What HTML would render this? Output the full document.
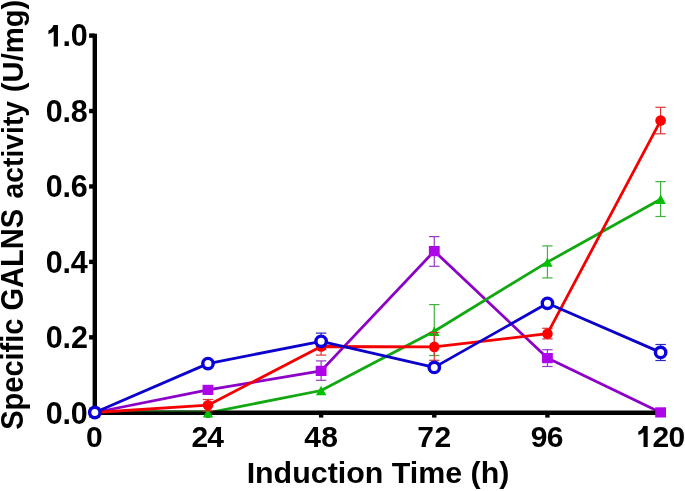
<!DOCTYPE html><html><head><meta charset="utf-8"><style>html,body{margin:0;padding:0;background:#fff;overflow:hidden}svg{display:block}</style></head><body>
<svg width="685" height="491" viewBox="0 0 685 491">
<rect width="685" height="491" fill="#fff"/>
<g stroke="#9838c8" stroke-width="1.2"><line x1="321.12" y1="360.9" x2="321.12" y2="380.3"/><line x1="315.92" y1="360.9" x2="326.32" y2="360.9"/><line x1="315.92" y1="380.3" x2="326.32" y2="380.3"/></g><g stroke="#9838c8" stroke-width="1.2"><line x1="434.28" y1="236.6" x2="434.28" y2="266.3"/><line x1="429.08" y1="236.6" x2="439.48" y2="236.6"/><line x1="429.08" y1="266.3" x2="439.48" y2="266.3"/></g><g stroke="#9838c8" stroke-width="1.2"><line x1="547.44" y1="349.7" x2="547.44" y2="366.5"/><line x1="542.24" y1="349.7" x2="552.64" y2="349.7"/><line x1="542.24" y1="366.5" x2="552.64" y2="366.5"/></g>
<polyline points="94.80,412.50 207.96,389.90 321.12,370.90 434.28,251.10 547.44,358.10 660.60,412.40" fill="none" stroke="#8c00c8" stroke-width="2.8" stroke-linejoin="round"/>
<g stroke="#40b040" stroke-width="1.2"><line x1="434.28" y1="304.6" x2="434.28" y2="355.5"/><line x1="429.08" y1="304.6" x2="439.48" y2="304.6"/><line x1="429.08" y1="355.5" x2="439.48" y2="355.5"/></g><g stroke="#40b040" stroke-width="1.2"><line x1="547.44" y1="245.9" x2="547.44" y2="277.9"/><line x1="542.24" y1="245.9" x2="552.64" y2="245.9"/><line x1="542.24" y1="277.9" x2="552.64" y2="277.9"/></g><g stroke="#40b040" stroke-width="1.2"><line x1="660.60" y1="181.6" x2="660.60" y2="216.5"/><line x1="655.40" y1="181.6" x2="665.80" y2="181.6"/><line x1="655.40" y1="216.5" x2="665.80" y2="216.5"/></g>
<polyline points="94.80,412.50 207.96,412.90 321.12,390.50 434.28,331.20 547.44,262.10 660.60,199.30" fill="none" stroke="#12a812" stroke-width="2.8" stroke-linejoin="round"/>
<g stroke="#000" stroke-width="4.4" fill="none">
<line x1="94.8" y1="33.7" x2="94.8" y2="414.95"/>
<line x1="89.1" y1="337.32" x2="94.8" y2="337.32"/>
<line x1="89.1" y1="261.89" x2="94.8" y2="261.89"/>
<line x1="89.1" y1="186.46" x2="94.8" y2="186.46"/>
<line x1="89.1" y1="111.03" x2="94.8" y2="111.03"/>
<line x1="89.1" y1="35.60" x2="94.8" y2="35.60"/>
<line x1="92.60" y1="412.75" x2="662.6" y2="412.75"/>
<line x1="207.96" y1="412.75" x2="207.96" y2="417.6"/>
<line x1="321.12" y1="412.75" x2="321.12" y2="417.6"/>
<line x1="434.28" y1="412.75" x2="434.28" y2="417.6"/>
<line x1="547.44" y1="412.75" x2="547.44" y2="417.6"/>
</g>
<line x1="100.80" y1="411.2" x2="207.96" y2="411.2" stroke="#0d5e0d" stroke-width="1.3"/>
<rect x="89.40" y="407.40" width="10.8" height="10.2" fill="#ae04e8"/><rect x="202.56" y="384.80" width="10.8" height="10.2" fill="#ae04e8"/><rect x="315.72" y="365.80" width="10.8" height="10.2" fill="#ae04e8"/><rect x="428.88" y="246.00" width="10.8" height="10.2" fill="#ae04e8"/><rect x="542.04" y="353.00" width="10.8" height="10.2" fill="#ae04e8"/><rect x="655.20" y="407.30" width="10.8" height="10.2" fill="#ae04e8"/>
<path d="M94.80,407.80 L100.00,417.20 L89.60,417.20Z" fill="#00c000"/><path d="M207.96,408.20 L213.16,417.60 L202.76,417.60Z" fill="#00c000"/><path d="M321.12,385.80 L326.32,395.20 L315.92,395.20Z" fill="#00c000"/><path d="M434.28,326.50 L439.48,335.90 L429.08,335.90Z" fill="#00c000"/><path d="M547.44,257.40 L552.64,266.80 L542.24,266.80Z" fill="#00c000"/><path d="M660.60,194.60 L665.80,204.00 L655.40,204.00Z" fill="#00c000"/>
<g stroke="#2828c0" stroke-width="1.2"><line x1="321.12" y1="333.1" x2="321.12" y2="349.5"/><line x1="315.92" y1="333.1" x2="326.32" y2="333.1"/><line x1="315.92" y1="349.5" x2="326.32" y2="349.5"/></g><g stroke="#2828c0" stroke-width="1.2"><line x1="660.60" y1="344.5" x2="660.60" y2="360.5"/><line x1="655.40" y1="344.5" x2="665.80" y2="344.5"/><line x1="655.40" y1="360.5" x2="665.80" y2="360.5"/></g>
<g stroke="#d83838" stroke-width="1.2"><line x1="207.96" y1="399.5" x2="207.96" y2="410.9"/><line x1="202.76" y1="399.5" x2="213.16" y2="399.5"/><line x1="202.76" y1="410.9" x2="213.16" y2="410.9"/></g><g stroke="#d83838" stroke-width="1.2"><line x1="321.12" y1="338.3" x2="321.12" y2="355.1"/><line x1="315.92" y1="338.3" x2="326.32" y2="338.3"/><line x1="315.92" y1="355.1" x2="326.32" y2="355.1"/></g><g stroke="#d83838" stroke-width="1.2"><line x1="434.28" y1="332.4" x2="434.28" y2="360.3"/><line x1="429.08" y1="332.4" x2="439.48" y2="332.4"/><line x1="429.08" y1="360.3" x2="439.48" y2="360.3"/></g><g stroke="#d83838" stroke-width="1.2"><line x1="547.44" y1="328.3" x2="547.44" y2="338.9"/><line x1="542.24" y1="328.3" x2="552.64" y2="328.3"/><line x1="542.24" y1="338.9" x2="552.64" y2="338.9"/></g><g stroke="#d83838" stroke-width="1.2"><line x1="660.60" y1="107.3" x2="660.60" y2="133.8"/><line x1="655.40" y1="107.3" x2="665.80" y2="107.3"/><line x1="655.40" y1="133.8" x2="665.80" y2="133.8"/></g>
<polyline points="94.80,412.50 207.96,405.20 321.12,346.50 434.28,346.90 547.44,333.70 660.60,120.60" fill="none" stroke="#f40000" stroke-width="2.8" stroke-linejoin="round"/>
<circle cx="94.80" cy="412.50" r="5.3" fill="#ff0000"/><circle cx="207.96" cy="405.20" r="5.3" fill="#ff0000"/><circle cx="321.12" cy="346.50" r="5.3" fill="#ff0000"/><circle cx="434.28" cy="346.90" r="5.3" fill="#ff0000"/><circle cx="547.44" cy="333.70" r="5.3" fill="#ff0000"/><circle cx="660.60" cy="120.60" r="5.3" fill="#ff0000"/>
<polyline points="94.80,412.50 207.96,363.60 321.12,341.30 434.28,367.40 547.44,303.30 660.60,352.40" fill="none" stroke="#0c00cc" stroke-width="2.8" stroke-linejoin="round"/>
<circle cx="94.80" cy="412.50" r="5.2" fill="#fff" stroke="#0a00dc" stroke-width="3.4"/><circle cx="207.96" cy="363.60" r="5.2" fill="#fff" stroke="#0a00dc" stroke-width="3.4"/><circle cx="321.12" cy="341.30" r="5.2" fill="#fff" stroke="#0a00dc" stroke-width="3.4"/><circle cx="434.28" cy="367.40" r="5.2" fill="#fff" stroke="#0a00dc" stroke-width="3.4"/><circle cx="547.44" cy="303.30" r="5.2" fill="#fff" stroke="#0a00dc" stroke-width="3.4"/><circle cx="660.60" cy="352.40" r="5.2" fill="#fff" stroke="#0a00dc" stroke-width="3.4"/>
<g font-family='"Liberation Sans", sans-serif' font-weight="bold" font-size="30.4" fill="#000" style="filter:grayscale(1)">
<text x="45.82" y="423.55" font-size="30.5">0</text>
<text x="62.59" y="423.55" font-size="30.5">.</text>
<text x="70.87" y="423.55" font-size="30.5">0</text>
<text x="45.82" y="348.12" font-size="30.5">0</text>
<text x="62.59" y="348.12" font-size="30.5">.</text>
<text x="70.96" y="348.12" font-size="30.5">2</text>
<text x="45.82" y="272.69" font-size="30.5">0</text>
<text x="62.59" y="272.69" font-size="30.5">.</text>
<text x="70.72" y="272.69" font-size="30.5">4</text>
<text x="45.82" y="197.26" font-size="30.5">0</text>
<text x="62.59" y="197.26" font-size="30.5">.</text>
<text x="70.87" y="197.26" font-size="30.5">6</text>
<text x="45.82" y="121.83" font-size="30.5">0</text>
<text x="62.59" y="121.83" font-size="30.5">.</text>
<text x="70.84" y="121.83" font-size="30.5">8</text>
<path d="M1046,0 L762,0 L762,1014 C650,930 540,860 407,819 L407,1068 C560,1120 690,1250 744,1440 L1046,1440 Z" transform="translate(42.38,46.40) scale(0.01489,-0.01489)"/>
<text x="62.59" y="46.40" font-size="30.5">.</text>
<text x="70.87" y="46.40" font-size="30.5">0</text>
<text x="85.96" y="447.10" font-size="30.0">0</text>
<text x="191.50" y="447.10" font-size="30.0">2</text>
<text x="207.21" y="447.10" font-size="30.0">4</text>
<text x="304.31" y="447.10" font-size="30.0">4</text>
<text x="321.13" y="447.10" font-size="30.0">8</text>
<text x="417.29" y="447.10" font-size="30.0">7</text>
<text x="434.45" y="447.10" font-size="30.0">2</text>
<text x="530.74" y="447.10" font-size="30.0">9</text>
<text x="546.86" y="447.10" font-size="30.0">6</text>
<path d="M1046,0 L762,0 L762,1014 C650,930 540,860 407,819 L407,1068 C560,1120 690,1250 744,1440 L1046,1440 Z" transform="translate(632.36,447.10) scale(0.01465,-0.01465)"/>
<text x="652.55" y="447.10" font-size="30.0">2</text>
<text x="668.41" y="447.10" font-size="30.0">0</text>
<text x="246.63" y="483.00" textLength="262.72" lengthAdjust="spacingAndGlyphs">Induction Time (h)</text>
<g transform="translate(23.0,429.0) rotate(-90)"><text x="-0.87" y="0.00" font-size="30.5" textLength="221.01" lengthAdjust="spacingAndGlyphs">Specific GALNS</text></g>
<g transform="translate(22.65,197.7) rotate(-90)"><text x="-0.85" y="0.00" font-size="28.8" textLength="97.63" lengthAdjust="spacingAndGlyphs">activity</text></g>
<g transform="translate(22.65,90.7) rotate(-90)"><text x="-1.46" y="0.00" font-size="28.8" textLength="92.40" lengthAdjust="spacingAndGlyphs">(U/mg)</text></g>
</g>
</svg></body></html>
